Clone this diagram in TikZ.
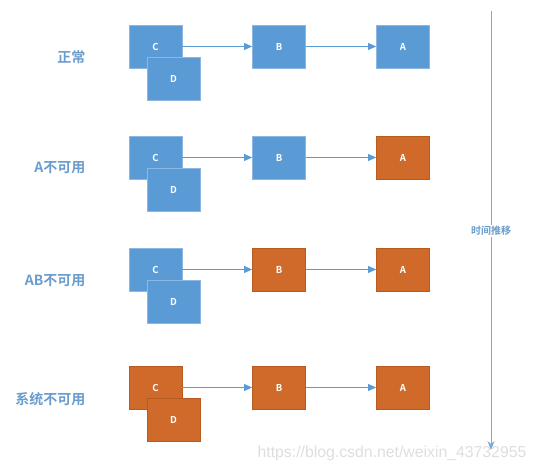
\documentclass[tikz,border=0pt]{standalone}
\usepackage{fontspec}
\setmainfont{Noto Sans CJK SC}[BoldFont={Noto Sans CJK SC Bold}]
\newfontfamily\wmfont{Liberation Sans}
\usetikzlibrary{arrows.meta}
\definecolor{bfill}{HTML}{5B9BD5}
\definecolor{bdraw}{HTML}{8DB6E0}
\definecolor{ofill}{HTML}{CF6A2A}
\definecolor{odraw}{HTML}{B85B20}
\definecolor{lbl}{HTML}{6A9CCE}
\definecolor{tline}{HTML}{7AAAD9}
\tikzset{
  bbox/.style={draw=bdraw, fill=bfill, line width=0.8pt, minimum width=53pt, minimum height=43pt, inner sep=0pt, text=white, font=\fontsize{9.5}{10}\selectfont\bfseries},
  obox/.style={bbox, draw=odraw, fill=ofill},
  conn/.style={draw=bfill, line width=0.9pt, -{Triangle[length=8pt,width=7pt]}},
  rowlabel/.style={anchor=east, text=lbl, font=\fontsize{14}{15}\selectfont\bfseries},
}
\begin{document}
\begin{tikzpicture}[x=1pt,y=-1pt]
\useasboundingbox (0,0) rectangle (536,471);
% row 1
\node[bbox] (c1) at (155.5,46.5) {C};
\node[bbox] (b1) at (279,46.5) {B};
\node[bbox] (a1) at (403,46.5) {A};
\draw[conn] (c1.east) -- (b1.west);
\draw[conn] (b1.east) -- (a1.west);
\node[bbox] (d1) at (173.5,78.5) {D};
\node[rowlabel] (l1) at (89,57) {正常};
% row 2
\node[bbox] (c2) at (155.5,157.5) {C};
\node[bbox] (b2) at (279,157.5) {B};
\node[obox] (a2) at (403,157.5) {A};
\draw[conn] (c2.east) -- (b2.west);
\draw[conn] (b2.east) -- (a2.west);
\node[bbox] (d2) at (173.5,189.5) {D};
\node[rowlabel] (l2) at (89,168) {A不可用};
% row 3
\node[bbox] (c3) at (155.5,269.5) {C};
\node[obox] (b3) at (279,269.5) {B};
\node[obox] (a3) at (403,269.5) {A};
\draw[conn] (c3.east) -- (b3.west);
\draw[conn] (b3.east) -- (a3.west);
\node[bbox] (d3) at (173.5,301.5) {D};
\node[rowlabel] (l3) at (89,281) {AB不可用};
% row 4
\node[obox] (c4) at (155.5,387.5) {C};
\node[obox] (b4) at (279,387.5) {B};
\node[obox] (a4) at (403,387.5) {A};
\draw[conn] (c4.east) -- (b4.west);
\draw[conn] (b4.east) -- (a4.west);
\node[obox] (d4) at (173.5,419.5) {D};
\node[rowlabel] (l4) at (89,399) {系统不可用};
% time axis
\coordinate (t0) at (491,11);
\coordinate (t1) at (491,450);
\draw[draw=tline, line width=0.9pt, -{Stealth[length=9pt,width=7pt,inset=3pt]}] (t0) -- (t1);
\node[fill=white, inner sep=1pt, text=lbl, font=\fontsize{10}{11}\selectfont\bfseries] (tl) at (491,231) {时间推移};
% watermark
\node[text=black!13, font=\wmfont\fontsize{15.8}{17}\selectfont] (wm) at (392,453) {https://blog.csdn.net/weixin\_43732955};
\end{tikzpicture}
\end{document}
